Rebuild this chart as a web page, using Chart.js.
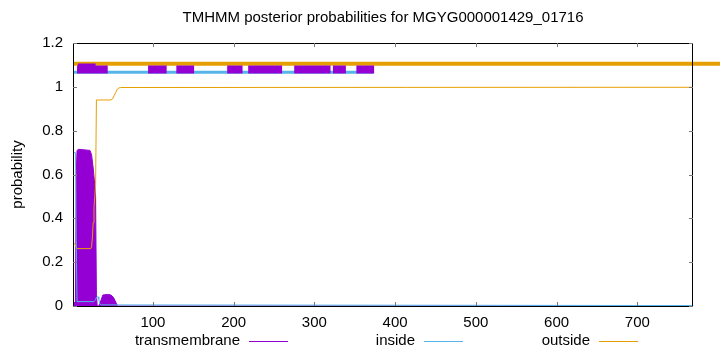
<!DOCTYPE html>
<html>
<head>
<meta charset="utf-8">
<script src="https://cdn.jsdelivr.net/npm/chart.js@4.4.0/dist/chart.umd.min.js"></script>
<style>
  html, body { margin: 0; padding: 0; background: #fff; }
  #wrap { width: 720px; height: 352px; }
</style>
</head>
<body>
<div id="wrap"><canvas id="tmhmm" width="720" height="352"></canvas></div>
<script>
// residue range of the protein
const seqStart = 1;
const seqEnd = 769;

// posterior probabilities (residue -> probability)
const tmPos  = [1, 4, 5, 6, 8, 22, 24, 26, 28, 29, 30, 31, 33, 34, 36, 38, 44, 48, 51, 53, 55, 56, 57, 769];
const tmProb = [0.01, 0.02, 0.6, 0.71, 0.715, 0.71, 0.69, 0.63, 0.55, 0.5, 0.05, 0, 0, 0.01, 0.03, 0.05, 0.053, 0.05, 0.04, 0.025, 0.01, 0, 0, 0];

const insidePos  = [1, 4, 5, 6, 27, 28, 29, 30, 32, 33, 34, 36, 769];
const insideProb = [0.7, 0.7, 0.3, 0.02, 0.02, 0.025, 0.03, 0.04, 0.042, 0.03, 0.01, 0.005, 0.002];

const outsidePos  = [1, 3, 5, 6, 23, 24, 25, 26, 27, 28, 29, 30, 48, 50, 52, 54, 56, 58, 60, 769];
const outsideProb = [0.29, 0.285, 0.27, 0.262, 0.262, 0.27, 0.31, 0.38, 0.45, 0.5, 0.55, 0.94, 0.94, 0.945, 0.96, 0.975, 0.99, 0.995, 0.997, 0.998];

// predicted topology drawn across the top
const tmSegments = [[6, 44], [94, 117], [129, 151], [192, 211], [218, 260], [275, 320], [323, 339], [352, 374]];
const tmRaised = [[7, 29]];
const insideSegments = [[1, 373]];
const outsideSegments = [[1, 900]];
const tmLevel = 1.079;
const tmRaisedLevel = 1.088;
const insideLevel = 1.067;
const outsideLevel = 1.105;

const xTicks = [100, 200, 300, 400, 500, 600, 700];
const yTicks = [0, 0.2, 0.4, 0.6, 0.8, 1, 1.2];

const titleText = "TMHMM posterior probabilities for MGYG000001429_01716";

const purple = "#9400d3";
const blue = "#56b4e9";
const orange = "#e69f00";
const FONT = "'Liberation Sans', Arial, sans-serif";

function toPoints(xs, ys) {
    return xs.map((x, i) => ({ x: x, y: ys[i] }));
}

// segments become one line with null gaps between them
function segPoints(segs, level) {
    let pts = [];
    segs.forEach(s => {
        pts.push({ x: s[0], y: level });
        pts.push({ x: s[1], y: level });
        pts.push({ x: s[1], y: null });
    });
    return pts;
}

// title, legend, box and inward tick marks like gnuplot
const gnuplotLook = {
    id: "gnuplotLook",
    afterDraw(chart) {
        const ctx = chart.ctx;
        const a = chart.chartArea;
        const xs = chart.scales.x, ys = chart.scales.y;
        ctx.save();

        // box
        ctx.strokeStyle = "#000";
        ctx.lineWidth = 1;
        ctx.strokeRect(a.left + 0.5, a.top + 0.5, a.right - a.left - 1, a.bottom - a.top);

        // tick marks pointing inwards
        ctx.strokeStyle = "#777";
        ctx.beginPath();
        xTicks.forEach(v => {
            const px = Math.round(xs.getPixelForValue(v)) + 0.5;
            ctx.moveTo(px, a.bottom); ctx.lineTo(px, a.bottom - 4);
            ctx.moveTo(px, a.top); ctx.lineTo(px, a.top + 4);
        });
        yTicks.forEach(v => {
            const py = Math.round(ys.getPixelForValue(v)) + 0.5;
            ctx.moveTo(a.left, py); ctx.lineTo(a.left + 4, py);
            ctx.moveTo(a.right, py); ctx.lineTo(a.right - 4, py);
        });
        ctx.stroke();

        // title
        ctx.fillStyle = "#000";
        ctx.font = "15px " + FONT;
        ctx.textAlign = "center";
        ctx.textBaseline = "middle";
        ctx.fillText(titleText, (a.left + a.right) / 2, 18);

        // legend: text first, then a short line
        const items = [
            { label: "transmembrane", color: purple },
            { label: "inside", color: blue },
            { label: "outside", color: orange }
        ];
        ctx.textAlign = "right";
        items.forEach((it, i) => {
            const lineEnd = 288 + i * 175;
            const lineStart = lineEnd - 39;
            ctx.fillStyle = "#000";
            ctx.fillText(it.label, lineStart - 9, 341);
            ctx.strokeStyle = it.color;
            ctx.beginPath();
            ctx.moveTo(lineStart, 341.5);
            ctx.lineTo(lineEnd, 341.5);
            ctx.stroke();
        });
        ctx.restore();
    }
};

const ctx = document.getElementById("tmhmm").getContext("2d");

new Chart(ctx, {
    type: "line",
    data: {
        datasets: [
            {
                label: "transmembrane top",
                data: segPoints(tmSegments, tmLevel).concat(segPoints(tmRaised, tmRaisedLevel)),
                borderColor: purple,
                borderWidth: 8,
                borderCapStyle: "butt",
                spanGaps: false,
                order: 0
            },
            {
                label: "inside top",
                data: segPoints(insideSegments, insideLevel),
                borderColor: blue,
                borderWidth: 3,
                borderCapStyle: "butt",
                order: 1
            },
            {
                label: "outside top",
                data: segPoints(outsideSegments, outsideLevel),
                borderColor: orange,
                borderWidth: 4,
                borderCapStyle: "butt",
                clip: { left: 0, top: 0, right: false, bottom: 0 },
                order: 1
            },
            {
                label: "inside",
                data: toPoints(insidePos, insideProb),
                borderColor: blue,
                borderWidth: 1,
                order: 2
            },
            {
                label: "outside",
                data: toPoints(outsidePos, outsideProb),
                borderColor: orange,
                borderWidth: 1,
                order: 2
            },
            {
                label: "transmembrane",
                data: toPoints(tmPos, tmProb),
                borderColor: purple,
                backgroundColor: purple,
                borderWidth: 1,
                fill: "origin",
                order: 3
            }
        ]
    },
    options: {
        responsive: false,
        animation: false,
        parsing: false,
        elements: {
            point: { radius: 0 },
            line: { tension: 0 }
        },
        layout: { padding: { top: 43, right: 27, left: 0, bottom: 0 } },
        plugins: {
            legend: { display: false },
            title: { display: false },
            tooltip: { enabled: false }
        },
        scales: {
            x: {
                type: "linear",
                min: seqStart,
                max: seqEnd,
                grid: { display: false, drawTicks: false },
                border: { display: false },
                afterBuildTicks: s => { s.ticks = xTicks.map(v => ({ value: v })); },
                afterFit: s => { s.height = 46; },
                ticks: {
                    color: "#000",
                    padding: 8,
                    maxRotation: 0,
                    font: { family: FONT, size: 15 }
                }
            },
            y: {
                min: 0,
                max: 1.2,
                grid: { display: false, drawTicks: false },
                border: { display: false },
                afterBuildTicks: s => { s.ticks = yTicks.map(v => ({ value: v })); },
                afterFit: s => { s.width = 73; },
                ticks: {
                    color: "#000",
                    padding: 10,
                    font: { family: FONT, size: 15 },
                    callback: v => String(+v.toFixed(1))
                },
                title: {
                    display: true,
                    text: "probability",
                    color: "#000",
                    padding: { top: 9, bottom: 0 },
                    font: { family: FONT, size: 15 }
                }
            }
        }
    },
    plugins: [gnuplotLook]
});
</script>
</body>
</html>
